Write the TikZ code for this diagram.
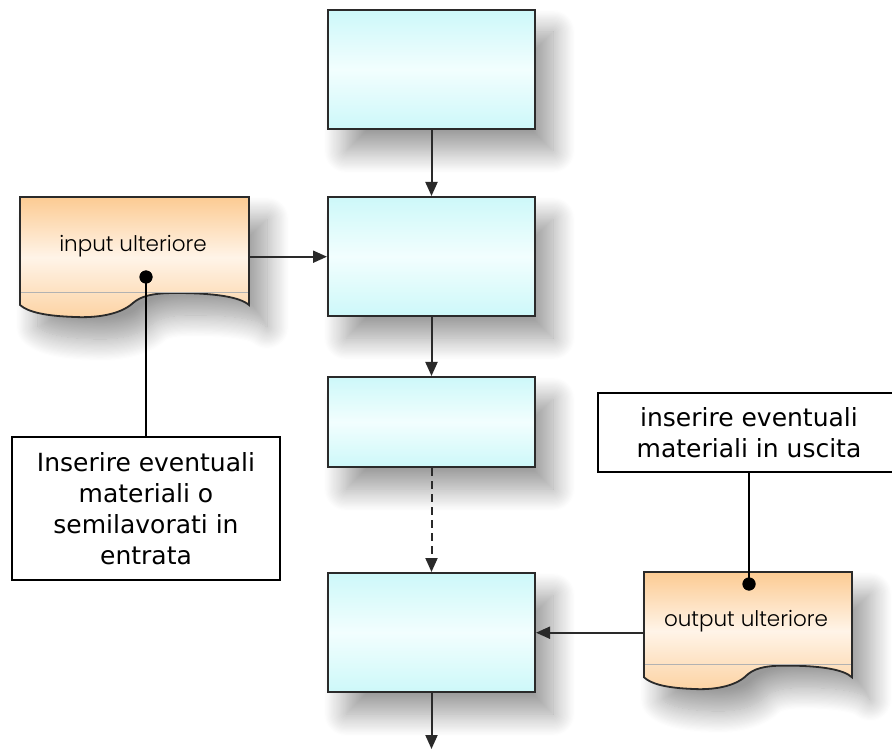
\documentclass[tikz,border=0pt]{standalone}
\usepackage{fontspec}
\setmainfont{DejaVu Sans}
\newfontfamily\docfont{Poppins Light}
\usetikzlibrary{shadows.blur,arrows.meta}

\definecolor{cyantop}{HTML}{CDF8F9}
\definecolor{cyanmid}{HTML}{F2FEFE}
\definecolor{orangetop}{HTML}{FCCB93}
\definecolor{orangemid}{HTML}{FFF4E8}
\definecolor{edge}{HTML}{2A2A2A}

\tikzset{
  softshadow/.style={blur shadow={shadow xshift=18pt, shadow yshift=-22pt,
      shadow blur radius=22pt, shadow blur steps=20, shadow opacity=40}},
  procbox/.style={draw=edge, line width=2pt, minimum width=207pt,
      top color=cyantop, bottom color=cyantop, middle color=cyanmid,
      softshadow},
  docsheet/.style={draw=edge, line width=1.8pt,
      top color=orangetop, bottom color=orangetop!85, middle color=orangemid,
      softshadow},
  anchorbox/.style={inner sep=0pt, minimum width=229pt, minimum height=119pt},
  doctext/.style={font=\docfont\fontsize{21.5}{24}\selectfont, text=black},
  note/.style={draw=black, line width=2pt, fill=white, align=center,
      font=\fontsize{25}{31}\selectfont, inner sep=0pt},
  dot/.style={circle, fill=black, inner sep=0pt, minimum size=13pt},
  flow/.style={draw=edge, line width=2pt,
      -{Triangle[length=14pt,width=12pt]}},
  lead/.style={draw=black, line width=2.2pt},
  sheet/.pic={
    \path[docsheet] (0,0) -- (229,0) -- (229,108)
      .. controls (220,100) and (195,96) .. (155,96)
      .. controls (130,96) and (120,100) .. (113,106)
      .. controls (100,118) and (75,121) .. (55,120)
      .. controls (25,119) and (8,115) .. (0,108) -- cycle;
    \draw[black!30, line width=0.8pt] (1,95) -- (228,95);
  }
}

\begin{document}
\begin{tikzpicture}[x=1pt, y=-1pt]
\useasboundingbox (0,0) rectangle (892,751);
\clip (0,0) rectangle (892,751);

% process steps
\node[procbox, minimum height=119pt] (s1) at (431.5,69.5) {};
\node[procbox, minimum height=119pt] (s2) at (431.5,256.5) {};
\node[procbox, minimum height=90pt]  (s3) at (431.5,422) {};
\node[procbox, minimum height=119pt] (s4) at (431.5,632.5) {};
\coordinate (out) at (431.5,749);

% extra input sheet
\pic at (20,197) {sheet};
\node[anchorbox, anchor=north west] (inp) at (20,197) {};
\node[doctext] (inplabel) at (133,246) {input ulteriore};
\node[dot] (inpdot) at (146,277) {};

% extra output sheet
\pic[xscale=0.908, yscale=0.975] at (644,572) {sheet};
\node[anchorbox, minimum width=208pt, minimum height=121pt, anchor=north west] (outp) at (644,572) {};
\node[doctext] (outlabel) at (746,621) {output ulteriore};
\node[dot] (outdot) at (749,584) {};

% notes
\node[note, minimum width=268pt, minimum height=143pt] (nin) at (146,508.5)
  {Inserire eventuali\\materiali o\\semilavorati in\\entrata};
\node[note, minimum width=302pt, minimum height=79pt] (nout) at (749,432.5)
  {inserire eventuali\\materiali in uscita};

% flow connectors
\draw[flow] (s1) -- (s2);
\draw[flow] (s2) -- (s3);
\draw[flow, dash pattern=on 8pt off 5pt] (s3) -- (s4);
\draw[flow] (s4) -- (out);
\draw[flow] (inp.east) -- (inp.east -| s2.west);
\draw[flow] (outp.west) -- (outp.west -| s4.east);

% note leaders
\draw[lead] (inpdot.center) -- (nin.north);
\draw[lead] (outdot.center) -- (nout.south);
\node[dot] at (inpdot) {};
\node[dot] at (outdot) {};
\end{tikzpicture}
\end{document}
